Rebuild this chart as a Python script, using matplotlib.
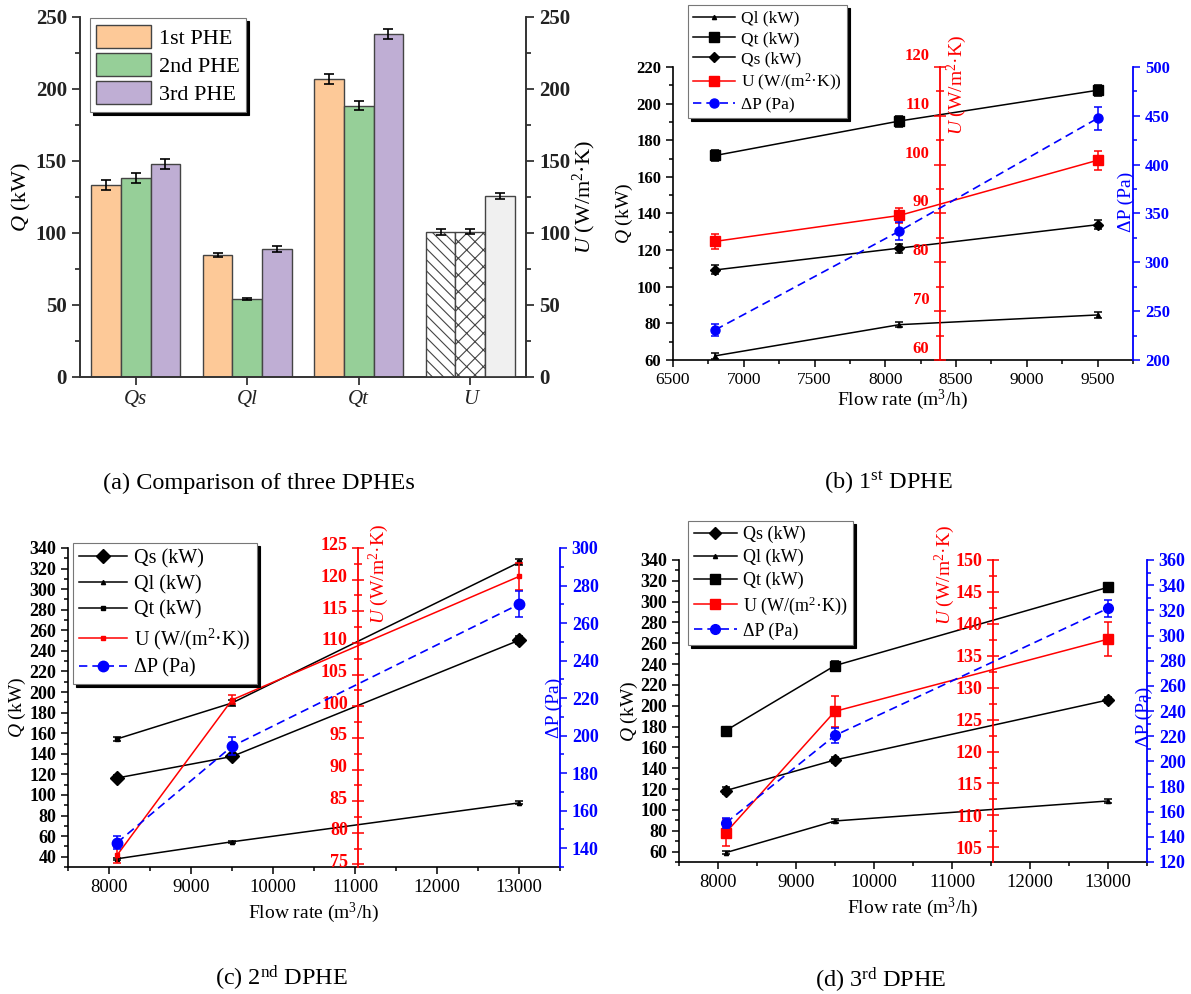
import matplotlib
matplotlib.use('Agg')
import matplotlib.pyplot as plt
import matplotlib.transforms as mtransforms
from matplotlib.ticker import MultipleLocator
import numpy as np

plt.rcParams['font.family'] = ['Liberation Serif', 'DejaVu Serif']
plt.rcParams['mathtext.fontset'] = 'custom'
plt.rcParams['mathtext.rm'] = 'Liberation Serif'
plt.rcParams['mathtext.it'] = 'Liberation Serif:italic'
plt.rcParams['mathtext.bf'] = 'Liberation Serif:bold'
plt.rcParams['hatch.linewidth'] = 0.8
plt.rcParams['hatch.color'] = '#333333'

# (a) comparison of the three exchangers (values at 9500 m3/h)
q_groups = ['Qs', 'Ql', 'Qt']
phe_names = ['1st PHE', '2nd PHE', '3rd PHE']
q_1st = [133.5, 84.5, 207]
q_2nd = [138, 54, 188.5]
q_3rd = [148, 89, 238.5]
q_1st_err = [3.5, 1.5, 3.5]
q_2nd_err = [3.5, 0.7, 3]
q_3rd_err = [3.5, 2, 3.5]
u_bar = [100.5, 101, 125.5]
u_bar_err = [2, 2, 2]

# (b) 1st DPHE
flow_b = [6800, 8100, 9500]
qs_b = [109.2, 121.1, 133.9]
qs_b_err = [2.5, 2.5, 2.5]
ql_b = [62.3, 79.3, 84.6]
ql_b_err = [1.5, 1.5, 1.5]
qt_b = [171.7, 190.5, 207.3]
qt_b_err = [3, 3, 3]
u_b = [84.3, 89.6, 100.9]
u_b_err = [1.6, 1.6, 2]
dp_b = [231, 332, 447.5]
dp_b_err = [6, 9, 11.5]

# (c) 2nd DPHE
flow_c = [8100, 9500, 13000]
qs_c = [116.5, 137.4, 250.3]
qs_c_err = [3, 2, 4]
ql_c = [38, 54.5, 92.3]
ql_c_err = [1, 1, 1.5]
qt_c = [154.5, 189.4, 326]
qt_c_err = [2, 2.5, 3]
u_c = [76.5, 101, 120.5]
u_c_err = [1.2, 0.7, 2.2]
dp_c = [143, 194.3, 270]
dp_c_err = [3.5, 4.8, 7]

# (d) 3rd DPHE
flow_d = [8100, 9500, 13000]
qs_d = [118.6, 148, 205.6]
qs_d_err = [3, 3, 3]
ql_d = [59, 89.4, 108.6]
ql_d_err = [1.5, 1.5, 1.5]
qt_d = [176.2, 238.6, 313.8]
qt_d_err = [2, 4, 4.5]
u_d = [107.3, 126.3, 137.6]
u_d_err = [2.1, 2.4, 2.7]
dp_d = [151, 220.6, 321.6]
dp_d_err = [4, 6, 7]

W, H = 1191, 994
fig = plt.figure(figsize=(W / 100, H / 100), dpi=100)


def px_axes(x0, y0, x1, y1):
    # axes box given in pixels of the reference picture
    return fig.add_axes([x0 / W, 1 - y1 / H, (x1 - x0) / W, (y1 - y0) / H])


def legend_box(ax, handles, anchor, size, **kw):
    leg = ax.legend(handles=handles, loc='upper left', bbox_to_anchor=anchor,
                    borderaxespad=0, fontsize=size, fancybox=False, framealpha=1,
                    edgecolor='#777777', shadow={'color': 'black', 'alpha': 1},
                    handletextpad=0.35, borderpad=0.3, **kw)
    leg.get_frame().set_linewidth(0.8)
    return leg


# ---------------- (a) bars ----------------
ax_a = px_axes(80, 17, 526, 377)
ax_a_r = ax_a.twinx()
x_q = np.arange(len(q_groups))
width = 0.265
offsets = [-width, 0, width]
bar_colors = ['#fdc998', '#96cf98', '#bfaed4']
u_faces = ['white', 'white', '#f0f0f0']
u_hatches = ['\\' * 3, 'xx', None]
err_kw = dict(ecolor='black', elinewidth=1.2, capthick=1.2)

bars = []
q_vals = [q_1st, q_2nd, q_3rd]
q_errs = [q_1st_err, q_2nd_err, q_3rd_err]
for i in range(3):
    b = ax_a.bar(x_q + offsets[i], q_vals[i], width, yerr=q_errs[i], color=bar_colors[i],
                 edgecolor='#444444', linewidth=1, capsize=3.5, error_kw=err_kw,
                 label=phe_names[i])
    bars.append(b)
    ax_a_r.bar(len(q_groups) + offsets[i], u_bar[i], width, yerr=u_bar_err[i],
               color=u_faces[i], hatch=u_hatches[i], edgecolor='#444444', linewidth=1,
               capsize=3.5, error_kw=err_kw)

ax_a.set_xlim(-0.5, 3.5)
ax_a.set_xticks(np.arange(4))
ax_a.set_xticklabels(q_groups + ['U'], fontstyle='italic', fontsize=15)
for a in (ax_a, ax_a_r):
    a.set_ylim(0, 250)
    a.set_yticks(np.arange(0, 251, 50))
    a.yaxis.set_minor_locator(MultipleLocator(25))
    a.spines['top'].set_visible(False)
    for s in a.spines.values():
        s.set_linewidth(1.2)
        s.set_color('#333333')
    a.tick_params(which='both', direction='out', width=1.2, labelsize=15, colors='#222222')
    a.tick_params(which='major', length=6)
    a.tick_params(which='minor', length=3.5)
ax_a.set_ylabel('$Q$ (kW)', fontsize=16, va='center')
ax_a.yaxis.set_label_coords(-0.132, 0.5)
ax_a_r.set_ylabel('$U$ (W/m$^2$·K)', fontsize=16, va='center')
ax_a_r.yaxis.set_label_coords(1.132, 0.5)
legend_box(ax_a_r, bars, (0.022, 0.997), 16, handlelength=2.45, handleheight=1.2,
           labelspacing=0.2)


# ---------------- (b)-(d) line panels ----------------
def dphe_panel(rect, flow, q_series, u_vals, u_errs, dp_vals, dp_errs,
               xlim, xticks, qlim, qticks, ulim, uticks, dplim, dpticks,
               u_spine, u_label_xy, dp_label_xy, q_label_x, x_label_y, u_shift,
               legend_xy, legend_size, legend_gap, tick_size, label_size, u_ms, dp_ms):
    ax = px_axes(*rect)
    ax_u = ax.twinx()
    ax_dp = ax.twinx()
    err = dict(elinewidth=1.1, capsize=3, capthick=1.1)

    handles = []
    for name, vals, errs, marker, ms in q_series:
        ax.errorbar(flow, vals, yerr=errs, fmt='none', ecolor='black', **err)
        h, = ax.plot(flow, vals, color='black', lw=1.1, marker=marker, ms=ms, label=name)
        handles.append(h)
    ax_u.errorbar(flow, u_vals, yerr=u_errs, fmt='none', ecolor='red', **err)
    h_u, = ax_u.plot(flow, u_vals, color='red', lw=1.1, marker='s', ms=u_ms,
                     label='U (W/(m$^2$·K))')
    ax_dp.errorbar(flow, dp_vals, yerr=dp_errs, fmt='none', ecolor='blue', **err)
    h_dp, = ax_dp.plot(flow, dp_vals, color='blue', lw=1.2, ls=(0, (5, 3)), marker='o',
                       ms=dp_ms, label='ΔP (Pa)')
    handles += [h_u, h_dp]

    # host axis: flow rate and Q
    ax.set_xlim(xlim)
    ax.set_xticks(xticks)
    ax.xaxis.set_minor_locator(MultipleLocator((xticks[1] - xticks[0]) / 2))
    ax.set_ylim(qlim)
    ax.set_yticks(qticks)
    ax.yaxis.set_minor_locator(MultipleLocator((qticks[1] - qticks[0]) / 2))
    ax.spines['top'].set_visible(False)
    ax.spines['right'].set_visible(False)
    for s in ('left', 'bottom'):
        ax.spines[s].set_linewidth(1.2)
    ax.tick_params(which='both', direction='out', width=1.1, labelsize=tick_size)
    ax.tick_params(axis='x', labelsize=tick_size + 0.5)
    ax.tick_params(which='major', length=5)
    ax.tick_params(which='minor', length=3)
    ax.set_ylabel('$Q$ (kW)', fontsize=label_size, va='center')
    ax.yaxis.set_label_coords(q_label_x, 0.5)
    ax.set_xlabel('Flow rate (m$^3$/h)', fontsize=label_size, va='center')
    ax.xaxis.set_label_coords(0.5, x_label_y)

    # red U axis, standing inside the plot
    ax_u.set_ylim(ulim)
    ax_u.set_yticks(uticks)
    ax_u.yaxis.set_minor_locator(MultipleLocator((uticks[1] - uticks[0]) / 2))
    ax_u.yaxis.tick_left()
    for s in ('right', 'top', 'bottom'):
        ax_u.spines[s].set_visible(False)
    ax_u.spines['left'].set_position(('axes', u_spine))
    ax_u.spines['left'].set_color('red')
    ax_u.spines['left'].set_linewidth(1.3)
    ax_u.tick_params(which='both', colors='red', direction='inout', width=1.1,
                     labelsize=tick_size)
    ax_u.tick_params(which='major', length=8)
    ax_u.tick_params(which='minor', length=6)
    shift = mtransforms.ScaledTranslation(0, u_shift / 100, fig.dpi_scale_trans)
    for lbl in ax_u.get_yticklabels():
        lbl.set_transform(lbl.get_transform() + shift)
    ax_u.set_ylabel('$U$ (W/m$^2$·K)', color='red', fontsize=label_size, va='center',
                    ha='center')
    ax_u.yaxis.set_label_coords(*u_label_xy)

    # blue pressure drop axis on the right
    ax_dp.set_ylim(dplim)
    ax_dp.set_yticks(dpticks)
    ax_dp.yaxis.set_minor_locator(MultipleLocator((dpticks[1] - dpticks[0]) / 2))
    for s in ('left', 'top', 'bottom'):
        ax_dp.spines[s].set_visible(False)
    ax_dp.spines['right'].set_color('blue')
    ax_dp.spines['right'].set_linewidth(1.3)
    ax_dp.tick_params(which='both', colors='blue', direction='out', width=1.1,
                      labelsize=tick_size)
    ax_dp.tick_params(which='major', length=5)
    ax_dp.tick_params(which='minor', length=3)
    ax_dp.set_ylabel('ΔP (Pa)', color='blue', fontsize=label_size, va='center',
                     ha='center')
    ax_dp.yaxis.set_label_coords(*dp_label_xy)

    legend_box(ax_dp, handles, legend_xy, legend_size, handlelength=2.4,
               labelspacing=legend_gap)
    return ax


dphe_panel((673, 67, 1133, 360), flow_b,
           [('Ql (kW)', ql_b, ql_b_err, '^', 3),
            ('Qt (kW)', qt_b, qt_b_err, 's', 6.5),
            ('Qs (kW)', qs_b, qs_b_err, 'D', 5.5)],
           u_b, u_b_err, dp_b, dp_b_err,
           xlim=(6500, 9750), xticks=np.arange(6500, 9501, 500),
           qlim=(60, 220), qticks=np.arange(60, 221, 20),
           ulim=(60, 120), uticks=np.arange(60, 121, 10),
           dplim=(200, 500), dpticks=np.arange(200, 501, 50),
           u_spine=0.58, u_label_xy=(0.617, 0.94), dp_label_xy=(0.985, 0.54),
           q_label_x=-0.106, x_label_y=-0.137, u_shift=13,
           legend_xy=(0.033, 1.21), legend_size=12.5, legend_gap=0.24, tick_size=12,
           label_size=14, u_ms=6.5, dp_ms=6.5)

dphe_panel((68, 548, 560, 867), flow_c,
           [('Qs (kW)', qs_c, qs_c_err, 'D', 7),
            ('Ql (kW)', ql_c, ql_c_err, '^', 3),
            ('Qt (kW)', qt_c, qt_c_err, 's', 3.5)],
           u_c, u_c_err, dp_c, dp_c_err,
           xlim=(7500, 13500), xticks=np.arange(8000, 13001, 1000),
           qlim=(30, 340), qticks=np.arange(40, 341, 20),
           ulim=(74.6, 125), uticks=np.arange(75, 126, 5),
           dplim=(130, 300), dpticks=np.arange(140, 301, 20),
           u_spine=0.59, u_label_xy=(0.632, 0.92), dp_label_xy=(0.988, 0.50),
           q_label_x=-0.102, x_label_y=-0.144, u_shift=4,
           legend_xy=(0.01, 1.016), legend_size=14.5, legend_gap=0.33, tick_size=13,
           label_size=14, u_ms=3.5, dp_ms=7.5)

dphe_panel((679, 560, 1147, 862), flow_d,
           [('Qs (kW)', qs_d, qs_d_err, 'D', 6),
            ('Ql (kW)', ql_d, ql_d_err, '^', 3),
            ('Qt (kW)', qt_d, qt_d_err, 's', 7)],
           u_d, u_d_err, dp_d, dp_d_err,
           xlim=(7500, 13500), xticks=np.arange(8000, 13001, 1000),
           qlim=(50, 340), qticks=np.arange(60, 341, 20),
           ulim=(102.7, 150), uticks=np.arange(105, 151, 5),
           dplim=(120, 360), dpticks=np.arange(120, 361, 20),
           u_spine=0.67, u_label_xy=(0.568, 0.95), dp_label_xy=(0.994, 0.48),
           q_label_x=-0.105, x_label_y=-0.152, u_shift=0,
           legend_xy=(0.02, 1.13), legend_size=13, legend_gap=0.3, tick_size=13,
           label_size=14, u_ms=7, dp_ms=7)

# captions
fig.text(259 / W, 1 - 483 / H, '(a) Comparison of three DPHEs', ha='center', va='center',
         fontsize=17.5)
fig.text(888 / W, 1 - 483 / H, '(b) 1$^{\\mathrm{st}}$ DPHE', ha='center', va='center',
         fontsize=17.5)
fig.text(281 / W, 1 - 978 / H, '(c) 2$^{\\mathrm{nd}}$ DPHE', ha='center', va='center',
         fontsize=17.5)
fig.text(881 / W, 1 - 980 / H, '(d) 3$^{\\mathrm{rd}}$ DPHE', ha='center', va='center',
         fontsize=17.5)

# all y tick numbers are bold in the original; set them once the ticks exist
fig.canvas.draw()
for a in fig.axes:
    for lbl in a.yaxis.get_majorticklabels():
        lbl.set_fontweight('bold')

fig.savefig('out.png', dpi=100)
